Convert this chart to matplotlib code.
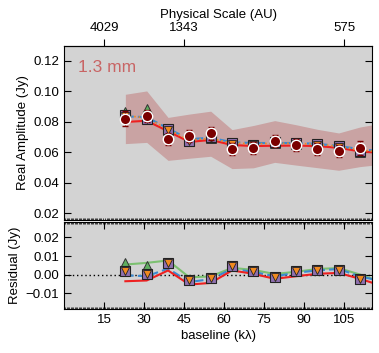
import matplotlib
matplotlib.use("Agg")
import matplotlib.pyplot as plt
from matplotlib.ticker import MultipleLocator, FixedLocator, NullLocator

plt.rcParams['font.family'] = ['Liberation Sans', 'DejaVu Sans']

# ---------------- data ----------------
baseline = [23, 31, 39, 47, 55, 63, 71, 79, 87, 95, 103, 111]
baseline_ext = [23, 31, 39, 47, 55, 63, 71, 79, 87, 95, 103, 111, 119]

amp_obs = [0.0820, 0.0835, 0.0687, 0.0708, 0.0723, 0.0618, 0.0627, 0.0673, 0.0649, 0.0623, 0.0605, 0.0627]
amp_err = [0.0050, 0.0040, 0.0040, 0.0040, 0.0040, 0.0040, 0.0040, 0.0040, 0.0040, 0.0040, 0.0040, 0.0045]

amp_square = [0.0845, 0.0820, 0.0750, 0.0675, 0.0700, 0.0660, 0.0650, 0.0665, 0.0660, 0.0655, 0.0640, 0.0605]
amp_down = [0.0840, 0.0815, 0.0745, 0.0670, 0.0695, 0.0655, 0.0645, 0.0660, 0.0655, 0.0650, 0.0635, 0.0600]
amp_up = [0.0865, 0.0885, 0.0745, 0.0670, 0.0695, 0.0655, 0.0645, 0.0660, 0.0655, 0.0650, 0.0635, 0.0600]

model_red = [0.0798, 0.0806, 0.0737, 0.0667, 0.0680, 0.0647, 0.0640, 0.0642, 0.0643, 0.0640, 0.0628, 0.0605, 0.0595]
model_blue = [0.0835, 0.0830, 0.0755, 0.0685, 0.0695, 0.0665, 0.0660, 0.0660, 0.0660, 0.0655, 0.0640, 0.0620, 0.0605]
model_orange = [0.0840, 0.0825, 0.0750, 0.0680, 0.0690, 0.0660, 0.0655, 0.0658, 0.0658, 0.0652, 0.0638, 0.0615, 0.0600]

band_upper = [0.0980, 0.1002, 0.0828, 0.0850, 0.0869, 0.0748, 0.0775, 0.0807, 0.0780, 0.0750, 0.0726, 0.0765, 0.0790]
band_lower = [0.0656, 0.0664, 0.0546, 0.0560, 0.0573, 0.0492, 0.0497, 0.0533, 0.0515, 0.0498, 0.0481, 0.0505, 0.0520]

res_square = [0.0018, 0.0004, 0.0060, -0.0027, -0.0018, 0.0045, 0.0018, -0.0012, 0.0018, 0.0027, 0.0027, -0.0023]
res_up = [0.0060, 0.0045, 0.0060, -0.0027, -0.0018, 0.0045, 0.0018, -0.0012, 0.0018, 0.0027, 0.0027, -0.0023]
res_red = [-0.0036, -0.0032, 0.0022, -0.0054, -0.0045, 0.0022, 0.0004, -0.0023, -0.0009, 0.0004, 0.0009, -0.0023, -0.0060]
res_green = [0.0054, 0.0063, 0.0076, -0.0015, -0.0010, 0.0036, 0.0025, 0.0003, 0.0015, 0.0030, 0.0035, 0.0000, -0.0040]
res_blue = [-0.0004, -0.0009, 0.0032, -0.0040, -0.0025, 0.0030, 0.0015, -0.0010, 0.0010, 0.0022, 0.0030, -0.0010, -0.0035]

x_ticks = [15, 30, 45, 60, 75, 90, 105]
top_tick_pos = [15, 45, 105]
top_tick_labels = ['4029', '1343', '575']

# ---------------- style ----------------
bg = '#d3d3d3'
c_red = '#ee2020'
c_blue = '#3a8ad0'
c_green = '#7cc070'
c_orange = '#f08a20'
c_purple = '#9070b0'
c_dark = '#7a0000'
c_band = '#c9a3a3'

fig = plt.figure(figsize=(3.79, 3.53), dpi=100)
ax1 = fig.add_axes([0.169, 0.377, 0.8125, 0.494])
ax2 = fig.add_axes([0.169, 0.125, 0.8125, 0.247])

for ax in (ax1, ax2):
    ax.set_facecolor(bg)
    ax.set_xlim(0, 115.5)
    ax.xaxis.set_major_locator(FixedLocator(x_ticks))
    ax.xaxis.set_minor_locator(MultipleLocator(0.5))
    ax.tick_params(which='both', direction='in', labelsize=9.5, width=0.8)
    ax.tick_params(which='major', length=5)
    ax.tick_params(which='minor', length=1.5, width=0.5)
    for s in ax.spines.values():
        s.set_linewidth(0.8)

# ---- top panel ----
ax1.fill_between(baseline_ext, band_lower, band_upper, color=c_band, lw=0, zorder=1)
ax1.plot(baseline_ext, model_red, color=c_red, lw=1.5, zorder=2)
ax1.plot(baseline_ext, model_blue, color=c_blue, lw=1.5, ls=(0, (4, 2)), zorder=2)
ax1.plot(baseline_ext, model_orange, color=c_orange, lw=1.2, ls=':', zorder=2)
ax1.plot(baseline, amp_up, ls='none', marker='^', ms=7, mfc='#5fae5f', mec='#333333', mew=0.7, zorder=3)
ax1.plot(baseline, amp_square, ls='none', marker='s', ms=6.5, mfc=c_purple, mec='#222222', mew=0.8, zorder=4)
ax1.plot(baseline, amp_down, ls='none', marker='v', ms=6, mfc=c_orange, mec='#222222', mew=0.6, zorder=5)
ax1.errorbar(baseline, amp_obs, yerr=amp_err, fmt='o', ms=7.5, mfc=c_dark, mec='white', mew=1.0,
             ecolor=c_dark, elinewidth=1.0, capsize=2.5, capthick=1.0, zorder=6)
ax1.set_ylim(0.0155, 0.13)
ax1.yaxis.set_major_locator(MultipleLocator(0.02))
ax1.yaxis.set_minor_locator(NullLocator())
ax1.tick_params(axis='y', which='both', left=True, right=True)
ax1.tick_params(axis='x', which='major', length=0, labelbottom=False)
ax1.tick_params(axis='x', which='minor', bottom=True, top=False)
ax1.set_ylabel('Real Amplitude (Jy)', fontsize=9.5, labelpad=3)
ax1.text(0.045, 0.875, '1.3 mm', transform=ax1.transAxes, color='#c86464', fontsize=12.5,
         ha='left', va='center')

sec = ax1.secondary_xaxis('top')
sec.set_xticks(top_tick_pos)
sec.set_xticklabels(top_tick_labels)
sec.tick_params(direction='out', length=5, width=0.8, labelsize=9.5)
sec.set_xlabel('Physical Scale (AU)', fontsize=9.5, labelpad=3)

# ---- bottom panel ----
ax2.axhline(0, color='black', lw=1.0, ls=(0, (1, 2)), zorder=1)
ax2.plot(baseline_ext, res_green, color=c_green, lw=1.5, zorder=2)
ax2.plot(baseline_ext, res_blue, color=c_blue, lw=1.5, ls=(0, (4, 2)), zorder=2)
ax2.plot(baseline_ext, res_red, color=c_red, lw=1.5, zorder=2)
ax2.plot(baseline, res_up, ls='none', marker='^', ms=7, mfc='#5fae5f', mec='#333333', mew=0.7, zorder=3)
ax2.plot(baseline, res_square, ls='none', marker='s', ms=6.5, mfc=c_purple, mec='#222222', mew=0.8, zorder=4)
ax2.plot(baseline, res_square, ls='none', marker='v', ms=6, mfc=c_orange, mec='#222222', mew=0.6, zorder=5)
ax2.set_ylim(-0.0185, 0.0285)
ax2.yaxis.set_major_locator(MultipleLocator(0.01))
ax2.yaxis.set_minor_locator(NullLocator())
ax2.yaxis.set_major_formatter(matplotlib.ticker.FuncFormatter(lambda v, p: f'{v:.2f}'.replace('-', '\u2212')))
ax2.tick_params(axis='both', which='both', left=True, right=True, top=True, bottom=True)
ax2.set_ylabel('Residual (Jy)', fontsize=9.5, labelpad=3)
ax2.set_xlabel('baseline (k\u03bb)', fontsize=9.5, labelpad=3)

fig.savefig('out.png', dpi=100)
